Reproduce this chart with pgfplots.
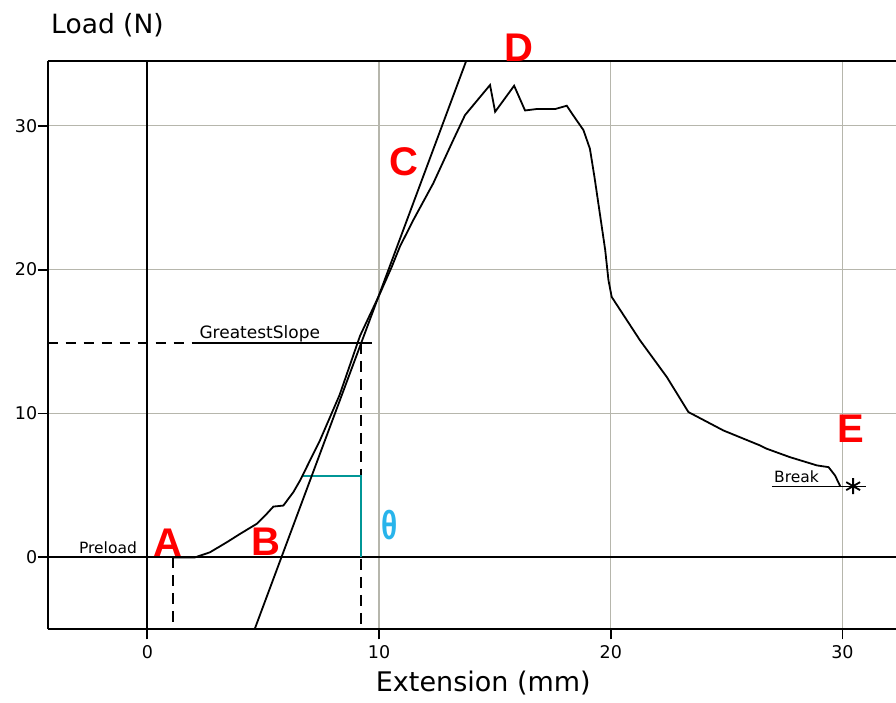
\documentclass[border=0pt]{standalone}
\usepackage{fontspec}
\setmainfont{DejaVu Sans}
\newfontfamily\lib{Liberation Sans}
\usepackage{graphicx}
\usepackage{pgfplots}
\pgfplotsset{compat=1.18}
\definecolor{gridc}{RGB}{182,182,172}
\definecolor{tealc}{RGB}{0,150,150}
\definecolor{thetac}{RGB}{40,180,235}
\definecolor{redc}{RGB}{255,0,0}
\begin{document}
\begin{tikzpicture}
\path[use as bounding box] (0,0) rectangle (896pt,703pt);
\begin{axis}[
  at={(47.7pt,73.7pt)}, anchor=south west, scale only axis,
  width=848.3pt, height=568.3pt,
  xmin=-4.3, xmax=32.31, ymin=-5, ymax=34.5,
  axis x line*=box, axis y line*=left,
  xtick={0,10,20,30}, ytick={0,10,20,30},
  xtick pos=left, ytick pos=left,
  tick align=outside, major tick length=10pt,
  every tick/.style={black, line width=1.8pt},
  axis line style={black, line width=2.2pt},
  grid=major, major grid style={gridc, line width=1.4pt},
  /pgf/number format/assume math mode=true,
  ticklabel style={font=\fontsize{17.5}{17.5}\selectfont},
  xticklabel style={yshift=-3pt},
  yticklabel style={xshift=3pt},
  clip mode=individual,
]
% zero lines
\addplot[black, line width=2pt] coordinates {(0,-5) (0,34.5)};
\addplot[black, line width=2pt] coordinates {(-4.3,0) (32.31,0)};
% dashed guides
\addplot[black, line width=1.8pt, dash pattern=on 10pt off 8pt] coordinates {(-4.3,14.9) (2.15,14.9)};
\addplot[black, line width=1.8pt] coordinates {(2.15,14.9) (9.7,14.9)};
\addplot[black, line width=1.8pt, dash pattern=on 11pt off 7pt] coordinates {(9.23,14.9) (9.23,-5)};
\addplot[black, line width=1.8pt, dash pattern=on 11pt off 7pt] coordinates {(1.1,0) (1.1,-5)};
% teal bracket
\addplot[tealc, line width=1.8pt] coordinates {(6.66,5.64) (9.23,5.64) (9.23,0)};
% tangent line
\addplot[black, line width=1.8pt] coordinates {(4.63,-5) (13.76,34.5)};
% load-extension curve
\addplot[black, line width=1.8pt] coordinates {
(1.1,0) (2.06,0) (2.7,0.35) (3.43,1.05) (4.0,1.63) (4.72,2.33) (5.15,3.02)
(5.44,3.53) (5.87,3.6) (6.3,4.53) (6.59,5.34) (7.45,8.13) (8.3,11.3)
(9.18,15.4) (10.04,18.34) (10.55,20.2) (10.9,21.6) (11.48,23.45) (12.34,26.0)
(13.2,29.0) (13.71,30.74) (14.79,32.83) (15.01,30.97) (15.83,32.78) (16.3,31.06)
(16.8,31.16) (17.6,31.16) (18.1,31.39) (18.46,30.53) (18.82,29.7) (19.1,28.4)
(19.3,26.4) (19.76,21.36) (19.9,19.27) (20.04,18.1) (21.26,15.09) (22.42,12.53)
(23.35,10.1) (24.86,8.82) (26.44,7.78) (26.73,7.55) (27.74,6.96) (28.9,6.39)
(29.4,6.27) (29.68,5.69) (29.9,4.95)};
% break underline and star
\addplot[black, line width=1.8pt] coordinates {(26.95,4.93) (31.0,4.93)};
\addplot[only marks, mark=asterisk, mark size=8pt, mark options={line width=1.8pt, black}] coordinates {(30.46,4.95)};
% text labels
\node[anchor=base east, font=\fontsize{15.5}{15.5}\selectfont] at (axis cs:-0.3,0) [yshift=4pt] {Preload};
\node[anchor=base west, font=\fontsize{17}{17}\selectfont] at (axis cs:2.1,14.9) [yshift=4pt] {GreatestSlope};
\node[anchor=base west, font=\fontsize{15.5}{15.5}\selectfont] at (axis cs:26.9,4.93) [yshift=4pt] {Break};
% red letters
\node[anchor=base, text=redc, font=\lib\bfseries\fontsize{40}{40}\selectfont] at (axis cs:0.9,0.05) {A};
\node[anchor=base, text=redc, font=\lib\bfseries\fontsize{40}{40}\selectfont] at (axis cs:5.12,0.1) {B};
\node[anchor=base, text=redc, font=\lib\bfseries\fontsize{40}{40}\selectfont] at (axis cs:11.08,26.57) {C};
\node[anchor=base, text=redc, font=\lib\bfseries\fontsize{40}{40}\selectfont] at (axis cs:16.03,34.47) {D};
\node[anchor=base, text=redc, font=\lib\bfseries\fontsize{40}{40}\selectfont] at (axis cs:30.36,8.0) {E};
\node[text=thetac, font=\lib\bfseries\fontsize{30}{30}\selectfont] at (axis cs:10.44,2.28) {\scalebox{1}[1.35]{θ}};
% axis titles
\node[anchor=base west, font=\fontsize{26.5}{26.5}\selectfont] at (rel axis cs:0,1) [yshift=27pt] {Load (N)};
\node[anchor=base, font=\fontsize{27}{27}\selectfont] at (axis cs:14.5,-5) [yshift=-62pt] {Extension (mm)};
\end{axis}
\end{tikzpicture}
\end{document}
